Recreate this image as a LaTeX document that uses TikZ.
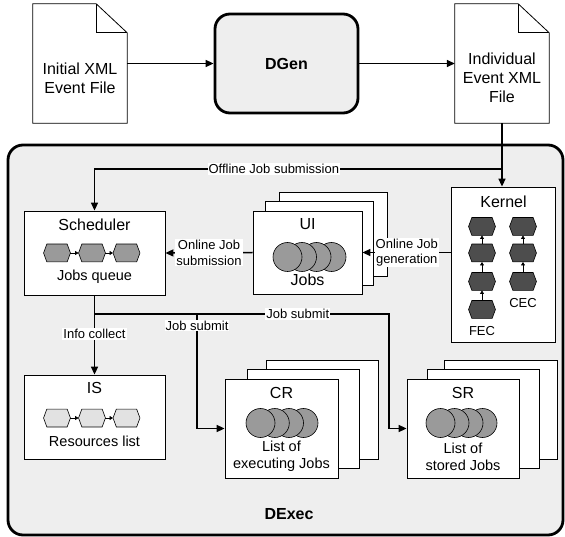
\documentclass[tikz,border=0pt]{standalone}
\usepackage{fontspec}
\setmainfont{Liberation Sans}
\usetikzlibrary{arrows.meta}
\definecolor{panelgray}{HTML}{EEEEEE}
\definecolor{jobgray}{HTML}{9A9A9A}
\definecolor{resgray}{HTML}{E2E2E2}
\definecolor{kerngray}{HTML}{4D4D4D}
\begin{document}
\begin{tikzpicture}[x=1pt,y=-1pt,
    flow/.style={line width=1.5pt, -{Triangle[length=8pt,width=7pt]}},
    tip/.style={line width=0.7pt, -{Triangle[length=3.5pt,width=4pt]}},
    box/.style={draw, fill=white, line width=0.8pt, inner sep=0pt},
    big/.style={draw, line width=2.8pt, rounded corners=15pt, fill=panelgray, inner sep=0pt},
    xmldoc/.style={minimum width=94pt, minimum height=119pt, inner sep=0pt},
    title/.style={inner sep=0pt, font=\fontsize{16}{19}\selectfont, align=center},
    caption/.style={inner sep=0pt, font=\fontsize{14.5}{17}\selectfont, align=center},
    tag/.style={inner sep=0pt, font=\fontsize{13}{15.5}\selectfont},
    lbl/.style={fill=white, inner sep=1pt, font=\fontsize{13}{15.5}\selectfont, align=center},
    hexslot/.style={minimum width=26.5pt, minimum height=17.5pt, inner sep=0pt},
    hexline/.style={draw, line width=0.6pt},
    job/.style={circle, draw, line width=0.6pt, fill=jobgray, minimum size=29pt, inner sep=0pt}]

    \fill[white] (0,0) rectangle (565,537);
    \useasboundingbox (0,0) rectangle (565,537);

    % DExec panel
    \node[big, minimum width=555pt, minimum height=390pt] (dexec) at (285.5,340) {};
    \node[inner sep=0pt, font=\fontsize{16}{19}\selectfont\bfseries] (dexeclbl) at (289,514) {DExec};

    % DGen part
    \node[xmldoc] (initial) at (80,63.5) {};
    \node[xmldoc] (indiv) at (502,63.5) {};
    \foreach \d in {initial,indiv} {
        \draw[line width=0.8pt] (\d.south west) -- (\d.north west) -- ([xshift=-31pt]\d.north east)
            -- ([yshift=-29pt]\d.north east) -- (\d.south east) -- cycle;
        \draw[line width=0.8pt] ([xshift=-31pt]\d.north east) |- ([yshift=-29pt]\d.north east);
    }
    \node[title] (initialtxt) at (80,78.5) {Initial XML\\Event File};
    \node[title] (indivtxt) at (502,78) {Individual\\Event XML\\File};
    \node[big, minimum width=143pt, minimum height=99pt, font=\fontsize{16}{19}\selectfont\bfseries] (dgen) at (286.5,63.5) {DGen};

    % Scheduler
    \node[box, minimum width=141pt, minimum height=84pt] (sched) at (94.5,253) {};
    \node[title] (schedtitle) at (94.5,225) {Scheduler};
    \foreach \i/\x in {1/57,2/92,3/126.5}
        \node[hexslot] (sq\i) at (\x,253) {};
    \node[caption] (schedcap) at (94.5,277) {Jobs queue};

    % IS
    \node[box, minimum width=141pt, minimum height=84pt] (is) at (94.5,417) {};
    \node[title] (istitle) at (94.5,388) {IS};
    \foreach \i/\x in {1/57,2/92,3/126.5}
        \node[hexslot] (rs\i) at (\x,418) {};
    \node[caption] (iscap) at (94.5,441) {Resources list};

    % UI
    \node[box, minimum width=108pt, minimum height=84pt] (uib2) at (333,234) {};
    \node[box, minimum width=108pt, minimum height=84pt] (uib1) at (319,243) {};
    \node[box, minimum width=109pt, minimum height=83pt] (uif) at (307.5,252.5) {};
    \node[title] (uititle) at (307.5,224) {UI};
    \foreach \i/\x in {4/331.5,3/316.5,2/302,1/287.5}
        \node[job] (ui\i) at (\x,257) {};
    \node[title] (uicap) at (307.5,280) {Jobs};

    % Kernel
    \node[box, minimum width=104pt, minimum height=155pt] (kernel) at (503.5,264.5) {};
    \node[title] (kerneltitle) at (503.5,202) {Kernel};
    \foreach \i/\y in {1/226.5,2/253,3/281.5,4/309.5}
        \node[hexslot] (fec\i) at (482,\y) {};
    \foreach \i/\y in {1/226.5,2/253,3/281.5}
        \node[hexslot] (cec\i) at (523,\y) {};
    \node[tag] (fectag) at (482,331) {FEC};
    \node[tag] (cectag) at (523,303) {CEC};

    % hexagon outlines
    \foreach \h/\c in {sq1/jobgray,sq2/jobgray,sq3/jobgray,rs1/resgray,rs2/resgray,rs3/resgray,
            fec1/kerngray,fec2/kerngray,fec3/kerngray,fec4/kerngray,cec1/kerngray,cec2/kerngray,cec3/kerngray}
        \draw[hexline, fill=\c] (\h.west) -- ([xshift=3.3pt]\h.north west) -- ([xshift=-3.3pt]\h.north east)
            -- (\h.east) -- ([xshift=-3.3pt]\h.south east) -- ([xshift=3.3pt]\h.south west) -- cycle;
    \foreach \a/\b in {sq1/sq2,sq2/sq3,rs1/rs2,rs2/rs3}
        \draw[tip] (\a.east) -- (\b.west);
    \foreach \a/\b in {fec2/fec1,fec3/fec2,fec4/fec3,cec2/cec1,cec3/cec2}
        \draw[tip] (\a.north) -- (\b.south);

    % CR
    \node[box, minimum width=112pt, minimum height=99pt] (crb2) at (322,409.5) {};
    \node[box, minimum width=112pt, minimum height=99pt] (crb1) at (303,418.5) {};
    \node[box, minimum width=113pt, minimum height=99pt] (crf) at (281.5,428.5) {};
    \node[title] (crtitle) at (281.5,393) {CR};
    \foreach \i/\x in {4/303.5,3/289,2/274.8,1/260.5}
        \node[job] (cr\i) at (\x,423) {};
    \node[caption] (crcap) at (281.5,456.5) {List of\\executing Jobs};

    % SR
    \node[box, minimum width=113pt, minimum height=99pt] (srb2) at (500.5,409.5) {};
    \node[box, minimum width=112pt, minimum height=99pt] (srb1) at (483,418.5) {};
    \node[box, minimum width=112pt, minimum height=99pt] (srf) at (463,428.5) {};
    \node[title] (srtitle) at (463,393) {SR};
    \foreach \i/\x in {4/482.5,3/468.5,2/454.5,1/440.5}
        \node[job] (sr\i) at (\x,423) {};
    \node[caption] (srcap) at (463,456.5) {List of\\stored Jobs};

    % connectors
    \coordinate (offsplit) at (502,169);
    \coordinate (jsplit) at (94.5,314);
    \coordinate (crbend) at (197,314);
    \coordinate (srbend) at (389,314);

    \draw[flow] (initial.east) -- (dgen.west);
    \draw[flow] (dgen.east) -- (indiv.west);
    \draw[flow] (indiv.south) -- (indiv.south |- kernel.north);
    \draw[flow] (offsplit) -| node[lbl, pos=0.28] {Offline Job submission} (sched.north);
    \draw[flow] (kernel.west |- uif.east) -- node[lbl] {Online Job\\generation} (uif.east);
    \draw[flow] (uif.west) -- node[lbl] {Online Job\\submission} (sched.east);
    \draw[flow] (sched.south) -- node[lbl, pos=0.49] {Info collect} (is.north);
    \draw[flow] (jsplit) -- node[lbl, pos=0.69] {Job submit} (srbend) |- (srf.west);
    \draw[flow] (crbend) |- node[lbl, pos=0.05] {Job submit} (crf.west);
\end{tikzpicture}
\end{document}
